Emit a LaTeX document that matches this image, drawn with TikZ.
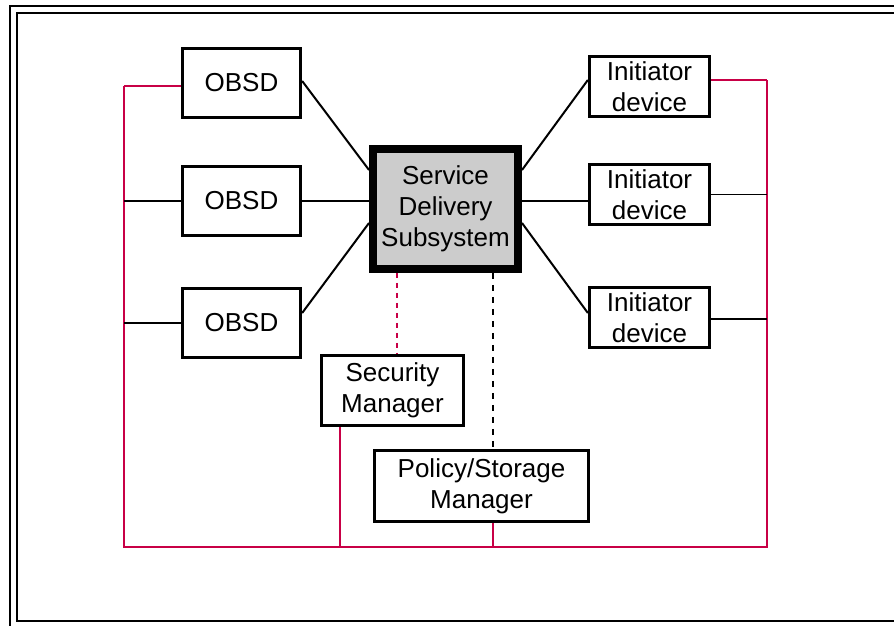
\documentclass[tikz,border=0pt]{standalone}
\usepackage{fontspec}
\setmainfont{Liberation Sans}
\usetikzlibrary{positioning,calc}
\definecolor{busred}{RGB}{200,0,70}
\definecolor{boxgray}{RGB}{204,204,204}
\tikzset{box/.style={draw,line width=2.8pt,align=center,inner sep=2pt},
         link/.style={line width=2pt},
         bus/.style={busred,line width=1.8pt}
}
\tikzstyle{frame} = [line width=2.6pt]

\begin{document}
\begin{tikzpicture}[x=1pt,y=1pt,font=\fontsize{26}{31}\selectfont]
\useasboundingbox (0,0) rectangle (894,626);
\clip (0,0) rectangle (894,626);

% outer double frame
\draw[frame] (10,-10) rectangle (910,620);
\draw[frame] (17,5) rectangle (900,613);

\node[box,line width=8pt,fill=boxgray,minimum width=145,minimum height=120] (sds) at (445.5,417) {Service\\Delivery\\Subsystem};

\node[box,minimum width=118.5,minimum height=69.5] (obsd1) at (241.5,543) {OBSD};
\node[box,minimum width=118.5,minimum height=69.5] (obsd2) at (241.5,425) {OBSD};
\node[box,minimum width=118.5,minimum height=69.5] (obsd3) at (241.5,303) {OBSD};

\node[box,minimum width=120.5,minimum height=60.5] (ini1) at (649.5,539.5) {Initiator\\device};
\node[box,minimum width=120.5,minimum height=60.5] (ini2) at (649.5,431.5) {Initiator\\device};
\node[box,minimum width=120.5,minimum height=60.5] (ini3) at (649.5,308.5) {Initiator\\device};

\node[box,minimum width=142.5,minimum height=70.5] (sec) at (392.5,235.5) {Security\\Manager};
\node[box,minimum width=214.5,minimum height=71.5] (pol) at (481.5,140) {Policy/Storage\\Manager};

% bus corners
\coordinate (tl) at (124,540);
\coordinate (tr) at (767,546);
\coordinate (bl) at (124,79);
\coordinate (br) at (767,79);

% links to the subsystem
\draw[link] ([yshift=2]obsd1.east)--([yshift=39]sds.west);
\draw[link] (obsd2.east)--(obsd2.east -| sds.west);
\draw[link] ([yshift=10]obsd3.east)--([yshift=-14]sds.west);
\draw[link] ([yshift=39]sds.east)--([yshift=6.5]ini1.west);
\draw[link] (sds.east |- obsd2.east)--(ini2.west |- obsd2.east);
\draw[link] ([yshift=-14]sds.east)--([yshift=4.5]ini3.west);
\draw[bus,line width=2pt,dash pattern=on 5pt off 5pt] ([xshift=4]sec.north |- sds.south)--([xshift=4]sec.north);
\draw[link,dash pattern=on 6pt off 6pt] ([xshift=47.5]sds.south)--([xshift=47.5]sds.south |- pol.north);

% management bus
\draw[bus] (tl)--(bl)--(br)--(tr);
\draw[bus] ([yshift=-3]obsd1.west)--([yshift=-3]obsd1.west -| tl);
\draw[link,line width=1.8pt] (obsd2.west)--(obsd2.west -| tl);
\draw[link,line width=1.8pt] (obsd3.west)--(obsd3.west -| tl);
\draw[bus] ([yshift=6.5]ini1.east)--(tr);
\draw[link,line width=1.8pt] (ini2.east)--(ini2.east -| tr);
\draw[link,line width=1.8pt] ([yshift=-1.5]ini3.east)--([yshift=-1.5]ini3.east -| tr);
\draw[bus] ([xshift=20]sec.south west)--([xshift=20]sec.south west |- bl);
\draw[bus] ([xshift=11.5]pol.south)--([xshift=11.5]pol.south |- bl);

\end{tikzpicture}
\end{document}
